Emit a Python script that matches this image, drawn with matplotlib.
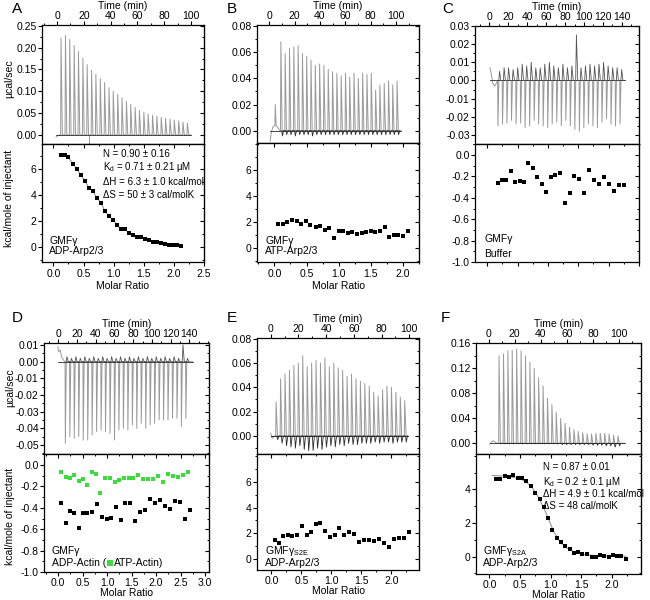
import math
import matplotlib
matplotlib.use("Agg")
import matplotlib.pyplot as plt
from matplotlib.ticker import MultipleLocator, FixedLocator, FormatStrFormatter

plt.rcParams["font.family"] = ["Liberation Sans", "DejaVu Sans"]
plt.rcParams["axes.unicode_minus"] = False
plt.rcParams["mathtext.fontset"] = "custom"
plt.rcParams["mathtext.rm"] = "Liberation Sans"
plt.rcParams["mathtext.it"] = "Liberation Sans:italic"

# ---------------- data ----------------
# A: GMFg into ADP-Arp2/3
A_span = [-0.7, 99.8]
A_pre_t = [-0.7, 0.5, 2.0]
A_pre_v = [-0.005, -0.002, 0.0]
A_time = [2.7, 6.0, 9.2, 12.5, 15.7, 19.0, 22.2, 25.5, 28.7, 32.0, 35.2, 38.5, 41.7, 45.0, 48.2,
          51.5, 54.7, 58.0, 61.2, 64.5, 67.7, 71.0, 74.2, 77.5, 80.7, 84.0, 87.2, 90.5, 93.7, 97.0]
A_peak = [0.222, 0.228, 0.219, 0.205, 0.191, 0.176, 0.161, 0.148, 0.139, 0.129, 0.120, 0.108, 0.100,
          0.093, 0.085, 0.077, 0.070, 0.063, 0.056, 0.052, 0.048, 0.045, 0.043, 0.040, 0.038, 0.036,
          0.034, 0.032, 0.029, 0.027]
A_glitch_t = [24.0]
A_glitch_v = [-0.021]
A_ratio = [0.12, 0.19, 0.25, 0.32, 0.39, 0.45, 0.52, 0.59, 0.65, 0.72, 0.79, 0.85, 0.92, 0.99, 1.05, 1.12,
           1.19, 1.25, 1.32, 1.39, 1.45, 1.52, 1.59, 1.65, 1.72, 1.79, 1.85, 1.92, 1.99, 2.05, 2.12]
A_heat = [7.12, 7.12, 6.92, 6.43, 6.02, 5.59, 5.12, 4.58, 4.35, 3.79, 3.43, 2.82, 2.41, 2.10, 1.74, 1.43,
          1.38, 1.12, 0.97, 0.79, 0.77, 0.62, 0.54, 0.44, 0.38, 0.30, 0.23, 0.18, 0.20, 0.20, 0.07]

# B: GMFg into ATP-Arp2/3
B_span = [0.8, 104.0]
B_pre_t = [0.8, 1.5, 3.0, 4.5, 4.8, 5.5, 7.0, 8.5]
B_pre_v = [-0.008, -0.002, 0.003, 0.004, 0.020, 0.004, 0.002, 0.0]
B_time = [8.9, 12.3, 15.7, 19.1, 22.5, 25.9, 29.2, 32.6, 36.0, 39.4, 42.8, 46.2, 49.6, 53.0,
          56.4, 59.8, 63.1, 66.5, 69.9, 73.3, 76.7, 80.1, 83.5, 86.9, 90.3, 93.7, 97.0, 100.4]
B_peak = [0.068, 0.059, 0.063, 0.064, 0.065, 0.059, 0.057, 0.054, 0.050, 0.051, 0.050, 0.047, 0.045, 0.044,
          0.042, 0.044, 0.041, 0.044, 0.040, 0.044, 0.043, 0.044, 0.031, 0.035, 0.036, 0.038, 0.035, 0.038]
B_dip = [-0.004, -0.003, -0.003, -0.004, -0.003, -0.003, -0.003, -0.004, -0.003, -0.003, -0.003, -0.003,
         -0.003, -0.003, -0.003, -0.003, -0.003, -0.003, -0.003, -0.003, -0.003, -0.003, -0.003, -0.003,
         -0.003, -0.003, -0.003, -0.003]
B_ratio = [0.06, 0.13, 0.20, 0.28, 0.35, 0.42, 0.49, 0.56, 0.64, 0.71, 0.78, 0.85, 0.92, 1.00, 1.07,
           1.14, 1.21, 1.28, 1.36, 1.43, 1.50, 1.57, 1.64, 1.72, 1.79, 1.86, 1.93, 2.00, 2.08]
B_heat = [1.89, 1.87, 2.00, 2.18, 2.13, 1.84, 2.13, 1.82, 1.66, 1.69, 1.43, 1.53, 0.82, 1.30, 1.33,
          1.18, 1.28, 1.10, 1.20, 1.23, 1.33, 1.23, 1.33, 1.61, 0.89, 1.02, 1.02, 0.97, 1.30]

# C: GMFg into buffer
C_span = [0.7, 143.0]
C_pre_t = [0.7, 2.0, 4.0, 6.0, 8.0]
C_pre_v = [0.007, 0.004, -0.002, -0.003, -0.001]
C_time = [8.9, 13.7, 18.4, 23.2, 28.0, 32.8, 37.5, 42.3, 47.1, 51.8, 56.6, 61.4, 66.1, 70.9,
          75.7, 80.5, 85.2, 90.0, 94.8, 99.5, 104.3, 109.1, 113.8, 118.6, 123.4, 128.2, 132.9, 137.7]
C_neg = [-0.025, -0.024, -0.0235, -0.022, -0.024, -0.0235, -0.026, -0.025, -0.022, -0.024, -0.025, -0.026,
         -0.024, -0.023, -0.025, -0.022, -0.025, -0.027, -0.028, -0.026, -0.024, -0.025, -0.026, -0.023,
         -0.021, -0.024, -0.025, -0.024]
C_pos = [0.005, 0.007, 0.007, 0.006, 0.007, 0.009, 0.008, 0.010, 0.007, 0.007, 0.009, 0.010, 0.008, 0.007,
         0.009, 0.007, 0.008, 0.025, 0.007, 0.008, 0.009, 0.008, 0.009, 0.010, 0.008, 0.007, 0.007, 0.006]
C_ratio = [0.174, 0.245, 0.316, 0.388, 0.464, 0.537, 0.607, 0.678, 0.756, 0.826, 0.898, 0.975, 1.047, 1.118,
           1.206, 1.283, 1.360, 1.436, 1.513, 1.596, 1.683, 1.760, 1.838, 1.925, 2.008, 2.085, 2.167, 2.255]
C_heat = [-0.266, -0.234, -0.234, -0.153, -0.256, -0.244, -0.256, -0.078, -0.119, -0.203, -0.269, -0.350,
          -0.209, -0.190, -0.172, -0.447, -0.356, -0.200, -0.222, -0.353, -0.144, -0.231, -0.275, -0.206,
          -0.275, -0.338, -0.281, -0.281]

# D: GMFg into ADP-actin (black) / ATP-actin (green)
D_span = [-0.5, 143.6]
D_pre_t = [-0.5, 0.5, 2.0, 3.5, 5.5]
D_pre_v = [0.009, 0.006, 0.007, 0.003, 0.001]
D_time = [7.2, 12.0, 16.7, 21.5, 26.3, 31.1, 35.8, 40.6, 45.4, 50.1, 54.9, 59.7, 64.4, 69.2,
          74.0, 78.8, 83.5, 88.3, 93.1, 97.8, 102.6, 107.4, 112.1, 116.9, 121.7, 126.5, 131.2, 136.0]
D_neg = [-0.049, -0.045, -0.046, -0.045, -0.047, -0.047, -0.044, -0.042, -0.041, -0.042, -0.043, -0.047,
         -0.041, -0.040, -0.041, -0.038, -0.040, -0.037, -0.040, -0.038, -0.037, -0.035, -0.035, -0.035,
         -0.034, -0.034, -0.039, -0.034]
D_pos = [0.003, 0.002, 0.003, 0.002, 0.003, 0.002, 0.003, 0.002, 0.003, 0.002, 0.003, 0.002, 0.003, 0.002,
         0.003, 0.002, 0.003, 0.002, 0.003, 0.002, 0.003, 0.002, 0.003, 0.002, 0.003, 0.002, 0.010, 0.002]
D_adp_ratio = [0.062, 0.151, 0.240, 0.329, 0.417, 0.506, 0.595, 0.684, 0.794, 0.890, 0.990, 1.087, 1.182,
               1.278, 1.374, 1.476, 1.578, 1.674, 1.777, 1.879, 1.982, 2.084, 2.186, 2.289, 2.391, 2.494,
               2.596, 2.699]
D_adp_heat = [-0.356, -0.544, -0.434, -0.444, -0.590, -0.444, -0.444, -0.437, -0.362, -0.484, -0.509,
              -0.494, -0.390, -0.512, -0.353, -0.353, -0.525, -0.437, -0.425, -0.322, -0.356, -0.331,
              -0.387, -0.412, -0.340, -0.347, -0.500, -0.419]
D_atp_ratio = [0.062, 0.151, 0.240, 0.329, 0.417, 0.506, 0.595, 0.684, 0.773, 0.861, 0.964, 1.059, 1.155,
               1.251, 1.346, 1.442, 1.537, 1.633, 1.729, 1.831, 1.934, 2.036, 2.139, 2.241, 2.344, 2.446,
               2.549, 2.651]
D_atp_heat = [-0.066, -0.112, -0.119, -0.091, -0.150, -0.128, -0.187, -0.066, -0.081, -0.266, -0.119,
              -0.125, -0.159, -0.141, -0.119, -0.122, -0.122, -0.091, -0.134, -0.134, -0.134, -0.106,
              -0.156, -0.081, -0.100, -0.109, -0.097, -0.069]

# E: GMFg S2E into ADP-Arp2/3
E_span = [0.0, 99.0]
E_pre_t = [0.0, 1.0, 2.5]
E_pre_v = [0.002, -0.002, 0.0]
E_time = [3.6, 6.8, 10.0, 13.2, 16.4, 19.6, 22.8, 26.0, 29.2, 32.4, 35.6, 38.8, 42.0, 45.2, 48.4,
          51.6, 54.8, 58.0, 61.2, 64.4, 67.6, 70.8, 74.0, 77.2, 80.4, 83.6, 86.8, 90.0, 93.2, 96.4]
E_peak = [0.028, 0.047, 0.051, 0.054, 0.058, 0.060, 0.066, 0.057, 0.060, 0.062, 0.060, 0.064, 0.057, 0.060,
          0.056, 0.054, 0.049, 0.051, 0.047, 0.045, 0.043, 0.041, 0.036, 0.033, 0.038, 0.041, 0.040, 0.036,
          0.032, 0.029]
E_dip = [-0.003, -0.006, -0.008, -0.009, -0.010, -0.008, -0.011, -0.012, -0.012, -0.010, -0.011, -0.009,
         -0.008, -0.009, -0.007, -0.008, -0.006, -0.007, -0.007, -0.006, -0.006, -0.006, -0.005, -0.006,
         -0.005, -0.005, -0.006, -0.005, -0.005, -0.005]
E_ratio = [0.061, 0.133, 0.200, 0.278, 0.351, 0.429, 0.507, 0.585, 0.663, 0.736, 0.813, 0.897, 0.975, 1.053,
           1.131, 1.209, 1.293, 1.376, 1.460, 1.543, 1.627, 1.711, 1.794, 1.878, 1.962, 2.045, 2.129, 2.212,
           2.296]
E_heat = [1.51, 1.23, 1.77, 1.90, 1.79, 1.84, 2.59, 1.90, 2.13, 2.72, 2.79, 2.20, 1.74, 1.84, 2.38, 1.84,
          2.07, 1.95, 1.31, 1.46, 1.51, 1.43, 1.56, 1.28, 0.95, 1.59, 1.64, 1.64, 2.10]

# F: GMFg S2A into ADP-Arp2/3
F_span = [0.8, 104.6]
F_pre_t = [0.8, 2.0, 3.5, 5.0, 6.5]
F_pre_v = [-0.002, 0.002, 0.004, 0.002, 0.0]
F_time = [7.7, 11.1, 14.5, 17.8, 21.2, 24.6, 28.0, 31.4, 34.7, 38.1, 41.5, 44.9, 48.3, 51.6,
          55.0, 58.4, 61.8, 65.2, 68.5, 71.9, 75.3, 78.7, 82.1, 85.4, 88.8, 92.2, 95.6, 99.0]
F_peak = [0.140, 0.143, 0.148, 0.149, 0.151, 0.148, 0.140, 0.130, 0.120, 0.105, 0.092, 0.072, 0.062, 0.050,
          0.040, 0.032, 0.026, 0.022, 0.019, 0.017, 0.015, 0.015, 0.016, 0.016, 0.016, 0.015, 0.013, 0.012]
F_dip = [-0.001, -0.001, -0.001, -0.001, -0.001, -0.001, -0.001, -0.001, -0.001, -0.001, -0.001, -0.001,
         -0.001, -0.001, -0.002, -0.002, -0.002, -0.002, -0.002, -0.002, -0.002, -0.003, -0.003, -0.003,
         -0.004, -0.004, -0.006, -0.004]
F_ratio = [0.11, 0.18, 0.25, 0.32, 0.39, 0.46, 0.53, 0.60, 0.68, 0.75, 0.82, 0.89, 0.96, 1.03, 1.10, 1.17,
           1.24, 1.31, 1.38, 1.45, 1.52, 1.59, 1.67, 1.74, 1.81, 1.88, 1.95, 2.02, 2.09, 2.16, 2.23]
F_heat = [4.60, 4.63, 4.80, 4.75, 4.85, 4.68, 4.65, 4.47, 4.20, 3.80, 3.45, 2.95, 2.30, 1.60, 1.10, 0.85,
          0.62, 0.45, 0.22, 0.27, 0.16, 0.15, 0.00, -0.04, 0.07, 0.06, 0.00, 0.10, 0.06, 0.05, -0.12]
F_fit_x = [0.05, 0.30, 0.50, 0.60, 0.70, 0.80, 0.90, 0.96, 1.05, 1.15, 1.25, 1.40, 1.60, 1.90, 2.23]
F_fit_y = [4.82, 4.78, 4.62, 4.45, 4.10, 3.55, 2.80, 2.30, 1.50, 0.90, 0.55, 0.25, 0.10, 0.04, 0.02]

# ---------------- drawing helpers ----------------
W, H = 650, 600
GRAY = "#9a9a9a"
DARK = "#2a2a2a"
GREEN = "#3ddc3d"
FS = 7.5

fig = plt.figure(figsize=(6.5, 6), dpi=100)


def box(left, top, right, bottom):
    return [left / W, 1 - bottom / H, (right - left) / W, (bottom - top) / H]


def spike_path(times, first, second=None, pre_t=(), pre_v=(), end=None, rise=0.3, fall=1.3):
    xs, ys = list(pre_t), list(pre_v)
    for i, t in enumerate(times):
        xs += [t, t + rise]
        ys += [0.0, first[i]]
        if second is not None:
            xs += [t + fall, t + 2 * fall]
            ys += [second[i], 0.0]
        else:
            xs.append(t + fall)
            ys.append(0.0)
    if end is not None:
        xs.append(end)
        ys.append(0.0)
    return xs, ys


def majors(lo, hi, step):
    k0 = math.ceil(lo / step - 1e-6)
    k1 = math.floor(hi / step + 1e-6)
    return [k * step for k in range(k0, k1 + 1)]


def ticks(ax, axis, major_list, minor, fmt=None):
    a = ax.xaxis if axis == "x" else ax.yaxis
    a.set_major_locator(FixedLocator(major_list))
    a.set_minor_locator(MultipleLocator(minor))
    if fmt:
        a.set_major_formatter(FormatStrFormatter(fmt))


def tick_len(ax):
    ax.tick_params(which="major", length=2.6, width=0.8)
    ax.tick_params(which="minor", length=1.5, width=0.7)


def panel(pos, tlim, tmaj, tmax, rlim, rmaj, rmin, rfmt, mlim, mmaj, hlim, hmaj, hmin, hfmt, hmax,
          mlabels=True, row2=False):
    left, top, mid, bottom, right = pos
    ax_t = fig.add_axes(box(left, top, right, mid))
    ax_b = fig.add_axes(box(left, mid, right, bottom))
    for ax in (ax_t, ax_b):
        for s in ax.spines.values():
            s.set_linewidth(0.9)
        tick_len(ax)
        ax.tick_params(labelsize=FS)
    # raw thermogram
    ax_t.set_xlim(tlim)
    ax_t.set_ylim(rlim)
    tmaj_list = majors(0, tmax, tmaj)
    rmaj_list = majors(rlim[0], rlim[1], rmaj)
    ticks(ax_t, "x", tmaj_list, tmaj / 2, "%d")
    ticks(ax_t, "y", rmaj_list, rmin, rfmt)
    ax_t.tick_params(axis="x", which="both", top=True, bottom=False, labeltop=True,
                     labelbottom=False, direction="out", pad=0.5)
    ax_t.tick_params(axis="y", which="both", direction="out", pad=1.2)
    ax_t.xaxis.set_label_position("top")
    ax_t.set_xlabel("Time (min)", fontsize=FS, labelpad=1.5)
    sec = ax_t.secondary_yaxis("right")
    ticks(sec, "y", rmaj_list, rmin)
    sec.tick_params(which="both", direction="in", labelright=False)
    tick_len(sec)
    # integrated heats
    ax_b.set_xlim(mlim)
    ax_b.set_ylim(hlim)
    mmaj_list = majors(0, mlim[1], mmaj)
    hmaj_list = majors(hlim[0], hmax, hmaj)
    ticks(ax_b, "x", mmaj_list, mmaj / 2, "%.1f")
    ticks(ax_b, "y", hmaj_list, hmin, hfmt)
    ax_b.tick_params(axis="x", which="both", direction="out", pad=2.0 if row2 else 2.5,
                     labelbottom=mlabels)
    ax_b.tick_params(axis="y", which="both", direction="out", pad=1.2)
    if mlabels:
        ax_b.set_xlabel("Molar Ratio", fontsize=FS, labelpad=-0.5 if row2 else 1.5)
    s = ax_b.secondary_xaxis("top")
    ticks(s, "x", mmaj_list, mmaj / 2)
    s.tick_params(which="both", direction="in", labeltop=False)
    tick_len(s)
    s = ax_b.secondary_yaxis("right")
    ticks(s, "y", hmaj_list, hmin)
    s.tick_params(which="both", direction="in", labelright=False)
    tick_len(s)
    return ax_t, ax_b


def squares(ax, x, y, color="black"):
    ax.plot(x, y, ls="none", marker="s", ms=2.9, mfc=color, mec=color, mew=0, zorder=4)


def two_lines(ax, x, y1, y2, l1, l2):
    ax.text(x, y1, l1, transform=ax.transAxes, fontsize=FS, va="center", ha="left")
    ax.text(x, y2, l2, transform=ax.transAxes, fontsize=FS, va="center", ha="left")


def fit_text(ax, x, ys, lines):
    for y, s in zip(ys, lines):
        ax.text(x, y, s, transform=ax.transAxes, fontsize=7, va="center", ha="left")


def dark_tail(ax, times, values, shift=1.0):
    xs, ys = spike_path([t + shift for t in times], values, rise=0.5, fall=1.4)
    ax.plot(xs, ys, color=DARK, lw=0.6)


# ---------------- A ----------------
axt, axb = panel((42, 25, 144, 262, 204), (-11.2, 109.7), 20, 100, (-0.021, 0.252), 0.05, 0.025, "%.2f",
                 (-0.19, 2.5), 0.5, (-1.13, 7.95), 2, 1, "%d", 6)
xs, ys = spike_path(A_time, A_peak, pre_t=A_pre_t, pre_v=A_pre_v, end=A_span[1])
axt.plot(xs, ys, color=GRAY, lw=0.7)
axt.vlines(A_glitch_t, 0, A_glitch_v, color=GRAY, lw=0.7)
axt.plot(A_span, [0, 0], color=DARK, lw=0.6)
axb.plot(A_ratio, A_heat, color="#8a8a8a", lw=0.7)
squares(axb, A_ratio, A_heat)
fit_text(axb, 0.375, [0.915, 0.805, 0.678, 0.568],
         ["N = 0.90 ± 0.16", "K$_\\mathrm{d}$ = 0.71 ± 0.21 µM", "ΔH = 6.3 ± 1.0 kcal/mol",
          "ΔS = 50 ± 3 cal/molK"])
two_lines(axb, 0.046, 0.178, 0.092, "GMFγ", "ADP-Arp2/3")

# ---------------- B ----------------
axt, axb = panel((257, 25, 143, 262, 419), (-9.6, 118), 20, 100, (-0.0094, 0.0808), 0.02, 0.01, "%.2f",
                 (-0.27, 2.25), 0.5, (-1.05, 8.07), 2, 1, "%d", 6)
xs, ys = spike_path(B_time, B_peak, pre_t=B_pre_t, pre_v=B_pre_v, end=B_span[1])
axt.plot(xs, ys, color=GRAY, lw=0.7)
axt.plot(B_span, [0, 0], color=DARK, lw=0.6)
dark_tail(axt, B_time, B_dip)
squares(axb, B_ratio, B_heat)
two_lines(axb, 0.05, 0.178, 0.092, "GMFγ", "ATP-Arp2/3")

# ---------------- C ----------------
axt, axb = panel((475, 26, 144, 262, 639), (-15, 158), 20, 140, (-0.035, 0.030), 0.01, 0.005, "%.2f",
                 (-0.2, 2.5), 0.5, (-1.0, 0.103), 0.2, 0.1, "%.1f", 0.0, mlabels=False)
xs, ys = spike_path(C_time, C_neg, pre_t=C_pre_t, pre_v=C_pre_v, end=C_span[1])
axt.plot(xs, ys, color=GRAY, lw=0.7)
axt.plot(C_span, [0, 0], color=DARK, lw=0.6)
xs, ys = spike_path([t + 1.2 for t in C_time], C_pos, rise=0.8, fall=2.2)
axt.plot(xs, ys, color="#555555", lw=0.6)
squares(axb, C_ratio, C_heat)
two_lines(axb, 0.057, 0.192, 0.068, "GMFγ", "Buffer")

# ---------------- D ----------------
axt, axb = panel((44, 343, 454, 572, 209), (-15.3, 161), 20, 140, (-0.0554, 0.0112), 0.01, 0.005, "%.2f",
                 (-0.29, 3.08), 0.5, (-1.0, 0.103), 0.2, 0.1, "%.1f", 0.0, row2=True)
xs, ys = spike_path(D_time, D_neg, pre_t=D_pre_t, pre_v=D_pre_v, end=D_span[1])
axt.plot(xs, ys, color=GRAY, lw=0.7)
axt.plot(D_span, [0, 0], color=DARK, lw=0.6)
xs, ys = spike_path([t + 1.2 for t in D_time], D_pos, rise=0.8, fall=2.2)
axt.plot(xs, ys, color="#555555", lw=0.6)
squares(axb, D_atp_ratio, D_atp_heat, GREEN)
squares(axb, D_adp_ratio, D_adp_heat)
axb.text(0.048, 0.175, "GMFγ", transform=axb.transAxes, fontsize=FS, va="center", ha="left")
t1 = axb.text(0.048, 0.076, "ADP-Actin (", transform=axb.transAxes, fontsize=FS, va="center", ha="left")
fig.canvas.draw()
bb = t1.get_window_extent().transformed(axb.transAxes.inverted())
sq_x = bb.x1 + 4.0 / (209 - 44)
axb.plot([sq_x], [0.076], transform=axb.transAxes, ls="none", marker="s", ms=4.6,
         mfc=GREEN, mec=GREEN, mew=0, clip_on=False)
axb.text(sq_x + 3.6 / (209 - 44), 0.076, "ATP-Actin)", transform=axb.transAxes, fontsize=FS,
         va="center", ha="left")

# ---------------- E ----------------
axt, axb = panel((257, 338, 454, 570, 419), (-9.9, 107), 20, 100, (-0.0148, 0.0805), 0.02, 0.01, "%.2f",
                 (-0.24, 2.46), 0.5, (-0.83, 8.14), 2, 1, "%d", 6, row2=True)
xs, ys = spike_path(E_time, E_peak, pre_t=E_pre_t, pre_v=E_pre_v, end=E_span[1])
axt.plot(xs, ys, color=GRAY, lw=0.7)
axt.plot(E_span, [0, 0], color=DARK, lw=0.7)
dark_tail(axt, E_time, E_dip, shift=0.9)
squares(axb, E_ratio, E_heat)
two_lines(axb, 0.05, 0.161, 0.06, "GMFγ$_\\mathrm{S2E}$", "ADP-Arp2/3")

# ---------------- F ----------------
axt, axb = panel((476, 343, 454, 574, 641), (-9.7, 117), 20, 100, (-0.0171, 0.1605), 0.04, 0.02, "%.2f",
                 (-0.22, 2.48), 0.5, (-1.03, 6.1), 2, 1, "%d", 4, row2=True)
xs, ys = spike_path(F_time, F_peak, pre_t=F_pre_t, pre_v=F_pre_v, end=F_span[1])
axt.plot(xs, ys, color=GRAY, lw=0.7)
axt.plot(F_span, [0, 0], color=DARK, lw=0.6)
dark_tail(axt, F_time, F_dip)
axb.plot(F_fit_x, F_fit_y, color="#8a8a8a", lw=0.7)
squares(axb, F_ratio, F_heat)
fit_text(axb, 0.406, [0.892, 0.767, 0.669, 0.564],
         ["N = 0.87 ± 0.01", "K$_\\mathrm{d}$ = 0.2 ± 0.1 µM", "ΔH = 4.9 ± 0.1 kcal/mol",
          "ΔS = 48 cal/molK"])
two_lines(axb, 0.042, 0.189, 0.092, "GMFγ$_\\mathrm{S2A}$", "ADP-Arp2/3")

# ---------------- shared labels ----------------
for x, y, s in ((9, 79, "µcal/sec"), (9, 198, "kcal/mole of injectant"),
                (10, 388, "µcal/sec"), (10, 516, "kcal/mole of injectant")):
    fig.text(x / W, 1 - y / H, s, rotation=90, fontsize=FS, ha="center", va="center")

for x, y, s in ((12, 2, "A"), (227, 2, "B"), (442, 2, "C"), (12, 311, "D"), (227, 311, "E"),
                (441, 311, "F")):
    fig.text(x / W, 1 - y / H, s, fontsize=11, ha="left", va="top")

fig.savefig("out.png", dpi=100)
